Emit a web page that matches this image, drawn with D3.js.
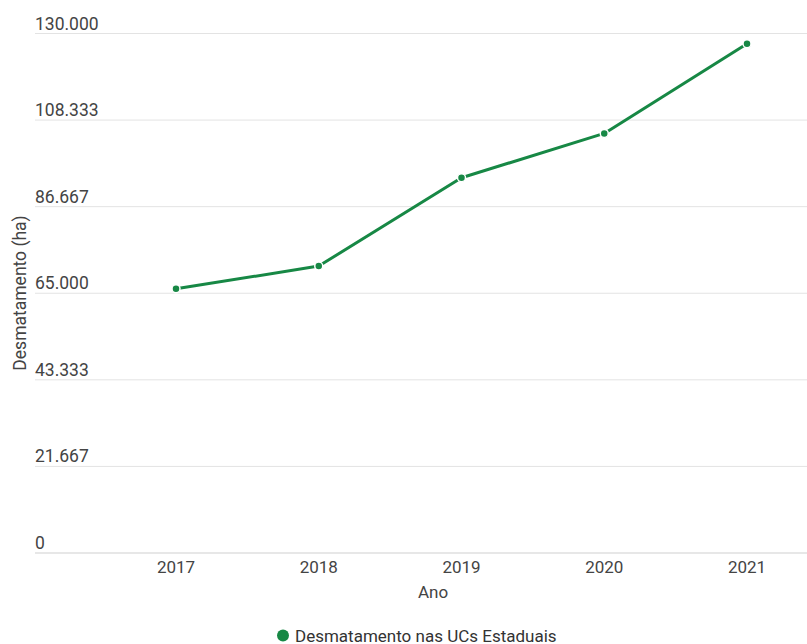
<!DOCTYPE html>
<html><head><meta charset="utf-8">
<script src="https://cdn.jsdelivr.net/npm/d3@7"></script>
<style>
body{margin:0;background:#fff;font-family:Roboto,"Noto Sans",sans-serif;}
</style></head>
<body><div id="chart"></div>
<script>
const years = ["2017","2018","2019","2020","2021"];
const values = [66100, 71800, 93900, 105000, 127450];
const yTicks = [0, 21667, 43333, 65000, 86667, 108333, 130000];
const seriesName = "Desmatamento nas UCs Estaduais";
const color = "#178845";

const W = 807, H = 644;
const svg = d3.select("#chart").append("svg").attr("width", W).attr("height", H);

const y = d3.scaleLinear().domain([0, 130000]).range([553, 33.5]);
const x = d3.scalePoint().domain(years).range([176, 747]);
const fmt = v => d3.format(",")(v).replace(/,/g, ".");

// gridlines + y labels
const g = svg.append("g");
g.selectAll("line.grid").data(yTicks).enter().append("line")
  .attr("x1", 35).attr("x2", W).attr("y1", d => y(d)).attr("y2", d => y(d))
  .attr("stroke", d => d === 0 ? "#cfcfcf" : "#e3e3e3").attr("stroke-width", 1);
g.selectAll("text.yl").data(yTicks).enter().append("text")
  .attr("x", 35).attr("y", d => y(d) - 4)
  .attr("font-size", 17.5).attr("fill", "#444").text(d => fmt(d));

// y axis title
svg.append("text").attr("transform", "translate(26,293) rotate(-90)")
  .attr("text-anchor", "middle").attr("font-size", 17.5).attr("fill", "#444")
  .text("Desmatamento (ha)");

// x labels
svg.selectAll("text.xl").data(years).enter().append("text")
  .attr("x", d => x(d)).attr("y", 573).attr("text-anchor", "middle")
  .attr("font-size", 17).attr("fill", "#444").text(d => d);
svg.append("text").attr("x", 433).attr("y", 598).attr("text-anchor", "middle")
  .attr("font-size", 17).attr("fill", "#444").text("Ano");

// line
const data = years.map((yr, i) => ({yr, v: values[i]}));
svg.append("path").datum(data)
  .attr("d", d3.line().x(d => x(d.yr)).y(d => y(d.v)))
  .attr("fill", "none").attr("stroke", color).attr("stroke-width", 3)
  .attr("stroke-linejoin", "round").attr("stroke-linecap", "round");
svg.selectAll("circle.pt").data(data).enter().append("circle")
  .attr("cx", d => x(d.yr)).attr("cy", d => y(d.v)).attr("r", 4)
  .attr("fill", color).attr("stroke", "#fff").attr("stroke-width", 1.5);

// legend
svg.append("circle").attr("cx", 283).attr("cy", 635.5).attr("r", 6).attr("fill", color);
svg.append("text").attr("x", 295).attr("y", 641.5).attr("font-size", 17)
  .attr("fill", "#333").text(seriesName);
</script></body></html>
